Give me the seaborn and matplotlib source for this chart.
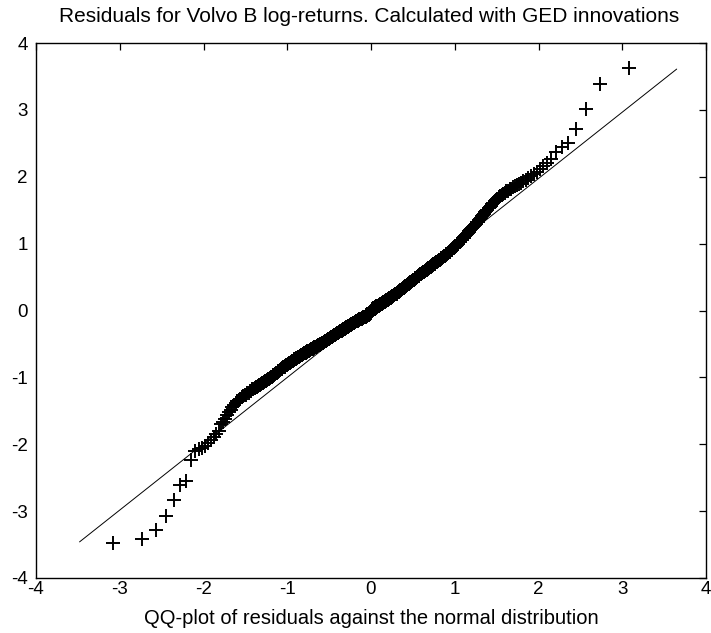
import statistics

import matplotlib
matplotlib.use("Agg")
import matplotlib.pyplot as plt
import numpy as np
import pandas as pd
import seaborn as sns

# Sorted standardized residuals (Volvo B log-returns, GED innovations)
lower_tail = [-3.47, -3.42, -3.28, -3.07, -2.84, -2.61, -2.55, -2.24, -2.10, -2.07, -2.05, -2.03]

body_lower = [
    -1.98, -1.94,
    -1.89, -1.85, -1.80,
    -1.70, -1.66, -1.62, -1.57,
    -1.52, -1.49, -1.45, -1.42, -1.38,
    -1.36, -1.34, -1.32, -1.30, -1.28, -1.27,
    -1.26, -1.24, -1.23, -1.21, -1.20, -1.18, -1.17,
    -1.16, -1.15, -1.14, -1.13, -1.12, -1.11, -1.10, -1.09,
    -1.08, -1.07, -1.06, -1.05, -1.04, -1.03, -1.02, -1.01,
    -1.00, -0.99, -0.98, -0.97, -0.96, -0.95, -0.94, -0.93, -0.92, -0.91,
    -0.90, -0.89, -0.88, -0.87, -0.86, -0.85, -0.85, -0.84, -0.83, -0.82, -0.81,
    -0.81, -0.80, -0.79, -0.79, -0.78, -0.77, -0.76, -0.76, -0.75, -0.74, -0.73, -0.72,
    -0.72, -0.71, -0.71, -0.70, -0.69, -0.69, -0.68, -0.68, -0.67, -0.66, -0.66, -0.65, -0.65, -0.64,
    -0.64, -0.63, -0.63, -0.62, -0.62, -0.61, -0.61, -0.60, -0.60, -0.59, -0.59, -0.58, -0.58, -0.57,
    -0.57, -0.56, -0.56, -0.55, -0.55, -0.55, -0.54, -0.54, -0.53, -0.53, -0.52, -0.52, -0.51, -0.51, -0.50, -0.50,
    -0.50, -0.49, -0.49, -0.48, -0.48, -0.47, -0.47, -0.46, -0.46, -0.45, -0.45, -0.44, -0.44, -0.43, -0.43, -0.42,
    -0.42, -0.41, -0.41, -0.40, -0.40, -0.39, -0.39, -0.38, -0.38, -0.37, -0.37, -0.36, -0.36, -0.35, -0.35, -0.34, -0.34,
    -0.34, -0.33, -0.33, -0.32, -0.32, -0.31, -0.31, -0.30, -0.30, -0.30, -0.29, -0.29, -0.28, -0.28, -0.27, -0.27, -0.26, -0.26,
    -0.26, -0.25, -0.25, -0.24, -0.24, -0.23, -0.23, -0.23, -0.22, -0.22, -0.21, -0.21, -0.20, -0.20, -0.20, -0.19, -0.19, -0.18, -0.18,
    -0.18, -0.17, -0.17, -0.16, -0.16, -0.16, -0.15, -0.15, -0.14, -0.14, -0.14, -0.13, -0.13, -0.13, -0.12, -0.12, -0.12, -0.11, -0.11,
    -0.11, -0.10, -0.10, -0.10, -0.09, -0.09, -0.09, -0.08, -0.08, -0.08, -0.07, -0.07, -0.07, -0.06, -0.06, -0.05, -0.05, -0.04, -0.03,
]

body_upper = [
    0.00, 0.01, 0.02, 0.02, 0.03, 0.03, 0.03, 0.04, 0.04, 0.05, 0.05, 0.05, 0.06, 0.06, 0.06, 0.07, 0.07, 0.07, 0.08,
    0.08, 0.08, 0.09, 0.09, 0.10, 0.10, 0.11, 0.11, 0.12, 0.12, 0.13, 0.13, 0.13, 0.14, 0.14, 0.15, 0.15, 0.16, 0.16,
    0.16, 0.17, 0.17, 0.18, 0.18, 0.19, 0.19, 0.20, 0.20, 0.21, 0.21, 0.22, 0.22, 0.23, 0.23, 0.24, 0.24, 0.25, 0.25,
    0.25, 0.26, 0.26, 0.27, 0.28, 0.28, 0.29, 0.29, 0.30, 0.31, 0.31, 0.32, 0.32, 0.33, 0.33, 0.34, 0.34, 0.35,
    0.35, 0.36, 0.36, 0.37, 0.38, 0.38, 0.39, 0.39, 0.40, 0.41, 0.41, 0.42, 0.42, 0.43, 0.44, 0.44, 0.45,
    0.45, 0.46, 0.46, 0.47, 0.48, 0.48, 0.49, 0.50, 0.50, 0.51, 0.52, 0.52, 0.53, 0.54, 0.54, 0.55,
    0.55, 0.56, 0.56, 0.57, 0.58, 0.58, 0.59, 0.59, 0.60, 0.61, 0.61, 0.62, 0.62, 0.63, 0.64, 0.64,
    0.65, 0.65, 0.66, 0.67, 0.68, 0.68, 0.69, 0.70, 0.70, 0.71, 0.72, 0.72, 0.73, 0.74,
    0.74, 0.75, 0.76, 0.76, 0.77, 0.78, 0.79, 0.79, 0.80, 0.81, 0.82, 0.82, 0.83, 0.84,
    0.85, 0.86, 0.86, 0.87, 0.88, 0.89, 0.90, 0.91, 0.92, 0.93, 0.94, 0.95,
    0.96, 0.97, 0.98, 0.99, 1.00, 1.02, 1.03, 1.04, 1.05, 1.06, 1.08,
    1.09, 1.10, 1.12, 1.13, 1.15, 1.16, 1.17, 1.19, 1.20, 1.22,
    1.23, 1.25, 1.27, 1.28, 1.30, 1.32, 1.33, 1.35, 1.37,
    1.39, 1.41, 1.43, 1.45, 1.47, 1.49, 1.51,
    1.53, 1.55, 1.57, 1.59, 1.61, 1.63, 1.65,
    1.67, 1.69, 1.71, 1.72, 1.74, 1.76,
    1.78, 1.79, 1.81, 1.82, 1.84,
    1.86, 1.87, 1.89, 1.91,
    1.93, 1.95, 1.98,
    2.01, 2.04, 2.07,
]

upper_tail = [2.12, 2.16, 2.20, 2.27, 2.37, 2.44, 2.51, 2.72, 3.01, 3.38, 3.62]

# Reference line endpoints
ref_x = [-3.48, 3.65]
ref_y = [-3.46, 3.61]

axis_ticks = [-4, -3, -2, -1, 0, 1, 2, 3, 4]

title_text = "Residuals for Volvo B log-returns. Calculated with GED innovations"
xlabel_text = "QQ-plot of residuals against the normal distribution"

# Theoretical normal quantiles for the sorted residuals
residuals = np.sort(np.array(lower_tail + body_lower + body_upper + upper_tail))
n = len(residuals)
nd = statistics.NormalDist()
theoretical = np.array([nd.inv_cdf((i - 0.5) / n) for i in range(1, n + 1)])
qq = pd.DataFrame({"theoretical": theoretical, "residual": residuals})
ref = pd.DataFrame({"x": ref_x, "y": ref_y})

sns.set_theme(style="white")
plt.rcParams["font.family"] = ["Liberation Sans", "DejaVu Sans"]
plt.rcParams.update({
    "text.color": "black",
    "xtick.color": "black",
    "ytick.color": "black",
    "xtick.labelcolor": "black",
    "ytick.labelcolor": "black",
    "xtick.direction": "in",
    "ytick.direction": "in",
    "xtick.top": True,
    "ytick.right": True,
    "xtick.major.size": 5,
    "ytick.major.size": 5,
    "xtick.major.width": 0.9,
    "ytick.major.width": 0.9,
    "axes.linewidth": 1.0,
    "axes.edgecolor": "black",
})

fig = plt.figure(figsize=(7.11, 6.33), dpi=100)
ax = fig.add_axes([36 / 711, 1 - 578 / 633, 670 / 711, 535 / 633])

sns.lineplot(data=ref, x="x", y="y", ax=ax, color="black", linewidth=0.7)
sns.scatterplot(data=qq, x="theoretical", y="residual", ax=ax, marker="+",
                color="black", s=95, linewidth=1.4)

ax.set_xlim(-4, 4)
ax.set_ylim(-4, 4)
ax.set_xticks(axis_ticks)
ax.set_yticks(axis_ticks)
ax.set_xticklabels([str(t) for t in axis_ticks], fontsize=13.5)
ax.set_yticklabels([str(t) for t in axis_ticks], fontsize=13.5)
ax.tick_params(axis="x", pad=2)
ax.tick_params(axis="y", pad=6)
ax.set_xlabel("")
ax.set_ylabel("")
for side in ax.spines.values():
    side.set_visible(True)
    side.set_color("black")

fig.text(369 / 711, 1 - 17 / 633, title_text, ha="center", va="center", fontsize=15)
fig.text(371 / 711, 1 - 618 / 633, xlabel_text, ha="center", va="center", fontsize=14.5)

fig.savefig("out.png", dpi=100, facecolor="white")
